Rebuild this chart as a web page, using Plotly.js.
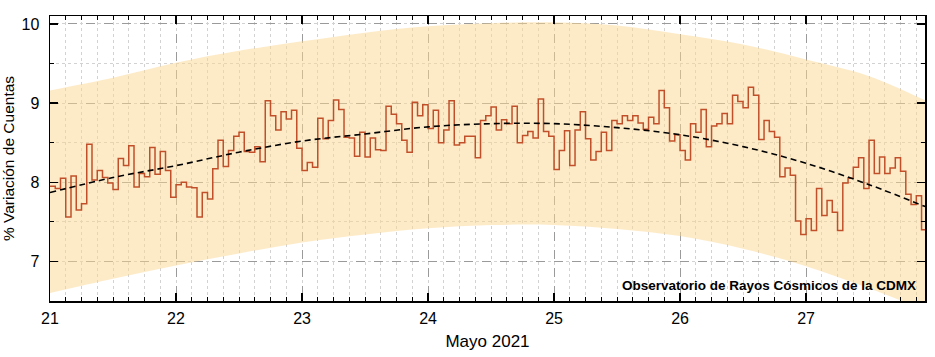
<!DOCTYPE html>
<html>
<head>
<meta charset="utf-8">
<script src="https://cdn.plot.ly/plotly-3.0.1.min.js"></script>
<style>html,body{margin:0;padding:0;background:#fff;}#chart{width:935px;height:357px;}</style>
</head>
<body>
<div id="chart"></div>
<script>
// Hourly counts variation (%) starting 21 May 2021 00:00
const startDay = 21;
const hourlyValues = [
  7.95, 7.92, 8.05, 7.56, 8.08, 7.65, 7.73, 8.48, 8.03, 8.15, 8.06, 7.99, 7.91, 8.30, 8.21, 8.46, 7.94, 8.11, 8.07, 8.44, 8.10, 8.39, 8.15, 7.81,
  7.97, 8.00, 7.94, 7.93, 7.56, 7.87, 7.79, 8.17, 8.53, 8.20, 8.40, 8.58, 8.63, 8.39, 8.38, 8.45, 8.26, 9.03, 8.84, 8.66, 8.89, 8.80, 8.91, 8.43,
  8.15, 8.25, 8.19, 8.81, 8.55, 8.78, 9.04, 8.92, 8.57, 8.56, 8.33, 8.63, 8.32, 8.56, 8.41, 8.40, 8.96, 8.86, 8.74, 8.53, 8.38, 9.01, 8.84, 8.98,
  8.68, 8.91, 8.50, 8.66, 9.03, 8.47, 8.50, 8.58, 8.58, 8.31, 8.78, 8.84, 8.95, 8.66, 8.79, 8.74, 8.96, 8.50, 8.59, 8.64, 8.56, 9.05, 8.64, 8.58,
  8.16, 8.40, 8.65, 8.21, 8.66, 8.89, 8.55, 8.28, 8.39, 8.63, 8.40, 8.78, 8.74, 8.84, 8.78, 8.84, 8.75, 8.67, 8.82, 8.74, 9.16, 8.94, 8.52, 8.60,
  8.40, 8.28, 8.74, 8.63, 8.92, 8.45, 8.71, 8.74, 8.87, 8.74, 9.10, 9.02, 8.94, 9.20, 9.10, 8.54, 8.78, 8.64, 8.57, 8.07, 8.18, 8.09, 7.51, 7.34,
  7.54, 7.39, 7.92, 7.58, 7.77, 7.62, 7.39, 7.99, 8.05, 8.19, 8.31, 7.92, 8.53, 8.11, 8.32, 8.11, 8.18, 8.31, 8.14, 7.85, 7.72, 7.83, 7.40, 7.45
];

// Trend curve and envelope band (day of month)
const trendDays  = [21, 21.5, 22, 22.5, 23, 23.5, 24, 24.5, 25, 25.5, 26, 26.5, 27, 27.5, 27.95];
const trendVals  = [7.87, 8.06, 8.21, 8.38, 8.52, 8.61, 8.70, 8.74, 8.74, 8.69, 8.60, 8.45, 8.24, 7.97, 7.69];
const bandUpper  = [9.16, 9.32, 9.51, 9.66, 9.78, 9.89, 9.97, 10.01, 10.02, 9.98, 9.87, 9.74, 9.55, 9.34, 9.03];
const bandLower  = [6.60, 6.78, 6.95, 7.10, 7.24, 7.34, 7.42, 7.46, 7.46, 7.41, 7.32, 7.16, 6.94, 6.66, 6.38];

const xTickVals = [21, 22, 23, 24, 25, 26, 27];
const xTickText = ['21', '22', '23', '24', '25', '26', '27'];
const yTickVals = [7, 8, 9, 10];

const hourX = hourlyValues.map((v, i) => startDay + i / 24);

const font = 'Arial, "Liberation Sans", sans-serif';

const traces = [
  { x: trendDays, y: bandLower, mode: 'lines', line: {width: 0, shape: 'spline'}, hoverinfo: 'skip', showlegend: false },
  { x: trendDays, y: bandUpper, mode: 'lines', line: {width: 0, shape: 'spline'}, fill: 'tonexty',
    fillcolor: 'rgba(251,216,146,0.5)', hoverinfo: 'skip', showlegend: false },
  { x: hourX, y: hourlyValues, mode: 'lines', line: {color: '#c1502a', width: 1.5, shape: 'hv'}, showlegend: false },
  { x: trendDays, y: trendVals, mode: 'lines', line: {color: '#000', width: 1.6, dash: '6px,4px', shape: 'spline'}, showlegend: false }
];

const gridMajor = '#9a9a9a';
const gridMinor = '#d2d2d2';

const layout = {
  width: 935, height: 357,
  margin: {l: 50, r: 10, t: 16, b: 56},
  paper_bgcolor: '#fff', plot_bgcolor: '#fff',
  font: {family: font, size: 16, color: '#000'},
  showlegend: false,
  xaxis: {
    range: [21, 27.944], tickvals: xTickVals, ticktext: xTickText,
    showline: true, linecolor: '#000', linewidth: 1.5, mirror: 'ticks',
    ticks: 'inside', ticklen: 8, tickwidth: 1.5, tickcolor: '#000',
    showgrid: true, gridcolor: gridMajor, griddash: 'dash', gridwidth: 1,
    zeroline: false, ticklabelstandoff: 2,
    minor: {dtick: 0.125, tick0: 21, ticks: 'inside', ticklen: 4, tickcolor: '#000', tickwidth: 1,
            showgrid: true, gridcolor: gridMinor, griddash: 'dot', gridwidth: 1},
    title: {text: 'Mayo 2021', font: {family: font, size: 17}, standoff: 9},
    tickfont: {family: font, size: 16}
  },
  yaxis: {
    range: [6.5, 10.1], tickvals: yTickVals,
    showline: true, linecolor: '#000', linewidth: 1.5, mirror: 'ticks',
    ticks: 'inside', ticklen: 8, tickwidth: 1.5, tickcolor: '#000',
    showgrid: true, gridcolor: gridMajor, griddash: 'dash', gridwidth: 1,
    zeroline: false, ticklabelstandoff: 6,
    minor: {dtick: 0.5, tick0: 6.5, ticks: 'inside', ticklen: 4, tickcolor: '#000', tickwidth: 1,
            showgrid: true, gridcolor: gridMinor, griddash: 'dot', gridwidth: 1},
    title: {text: '% Variación de Cuentas', font: {family: font, size: 15.5}, standoff: 4},
    tickfont: {family: font, size: 16}
  },
  annotations: [{
    text: '<b>Observatorio de Rayos Cósmicos de la CDMX</b>',
    xref: 'paper', yref: 'paper', x: 0.9925, y: 0.056, xanchor: 'right', yanchor: 'middle',
    showarrow: false, font: {family: font, size: 13.5, color: '#000'}
  }]
};

Plotly.newPlot('chart', traces, layout, {displayModeBar: false, staticPlot: true});
</script>
</body>
</html>
